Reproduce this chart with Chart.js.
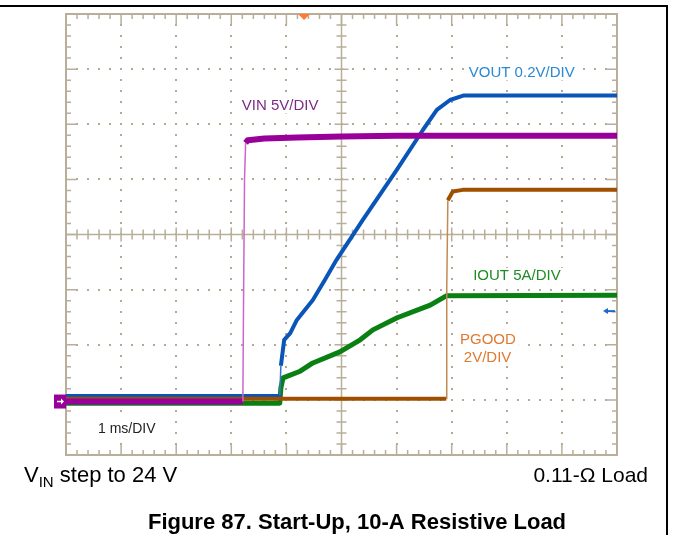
<!DOCTYPE html>
<html>
<head>
<meta charset="utf-8">
<script src="https://cdn.jsdelivr.net/npm/chart.js@4/dist/chart.umd.min.js"></script>
<style>
    html, body { margin: 0; padding: 0; background: #fff; }
    canvas { display: block; }
</style>
</head>
<body>
<canvas id="scope" width="673" height="535"></canvas>
<script>
// time in ms (1 ms/DIV, 10 divisions), amplitude in screen divisions (8 divisions)
const vinT   = [0, 3.21, 3.22, 3.24, 3.26, 3.30, 3.6, 4.2, 5.0, 6.0, 8.0, 10];
const vinV   = [0.97, 0.97, 2.5, 5.0, 5.66, 5.71, 5.74, 5.76, 5.78, 5.79, 5.79, 5.79];

const voutT  = [0, 3.87, 3.88, 3.90, 3.96, 4.07, 4.19, 4.48, 4.70, 4.91, 5.39, 6.00, 6.48, 6.73, 6.97, 7.21, 10];
const voutV  = [1.07, 1.07, 1.09, 1.62, 2.09, 2.21, 2.45, 2.81, 3.18, 3.54, 4.27, 5.17, 5.90, 6.26, 6.44, 6.52, 6.52];

const ioutT  = [0, 3.88, 3.90, 3.94, 4.25, 4.48, 4.97, 5.34, 5.57, 6.01, 6.61, 6.91, 10];
const ioutV  = [0.94, 0.94, 1.22, 1.40, 1.52, 1.67, 1.87, 2.09, 2.27, 2.49, 2.72, 2.89, 2.90];

const pgoodT = [0, 6.90, 6.91, 6.93, 7.02, 7.2, 10];
const pgoodV = [1.02, 1.02, 3.0, 4.62, 4.78, 4.81, 4.81];

const xTicks = [0, 1, 2, 3, 4, 5, 6, 7, 8, 9, 10];
const yTicks = [0, 1, 2, 3, 4, 5, 6, 7, 8];

const triggerT = 4.32;
const gndLevel = 0.97;
const refArrowV = 2.61;

const toPoints = (ts, vs) => ts.map((t, i) => ({ x: t, y: vs[i] }));

// thin, lighter stroke for the fast edges like on the scope screen
const edgeStyle = (thick, thin, w) => ({
    borderColor: ctx => isEdge(ctx) ? thin : thick,
    borderWidth: ctx => isEdge(ctx) ? 1.5 : w
});
function isEdge(ctx) {
    const dx = Math.abs(ctx.p1.parsed.x - ctx.p0.parsed.x);
    const dy = Math.abs(ctx.p1.parsed.y - ctx.p0.parsed.y);
    return dx < 0.03 && dy > 0.5;
}

const graticule = {
    id: 'graticule',
    beforeDatasetsDraw(chart) {
        const { ctx, chartArea: a, scales: { x, y } } = chart;
        ctx.save();
        // dotted grid
        ctx.fillStyle = '#b3a995';
        xTicks.slice(1, -1).forEach(t => {
            if (t === 5) return;
            const px = Math.round(x.getPixelForValue(t));
            for (let v = 0; v <= 8.001; v += 0.2) {
                ctx.fillRect(px - 1, Math.round(y.getPixelForValue(v)) - 1, 2, 2);
            }
        });
        yTicks.slice(1, -1).forEach(v => {
            if (v === 4) return;
            const py = Math.round(y.getPixelForValue(v));
            for (let t = 0; t <= 10.001; t += 0.2) {
                ctx.fillRect(Math.round(x.getPixelForValue(t)) - 1, py - 1, 2, 2);
            }
        });
        ctx.strokeStyle = '#b8ae9a';
        // center cross
        const cx = x.getPixelForValue(5), cy = y.getPixelForValue(4);
        ctx.lineWidth = 1.5;
        ctx.beginPath();
        ctx.moveTo(cx, a.top); ctx.lineTo(cx, a.bottom);
        ctx.moveTo(a.left, cy); ctx.lineTo(a.right, cy);
        ctx.stroke();
        // ticks
        ctx.beginPath();
        for (let i = 0; i <= 50; i++) {
            const px = x.getPixelForValue(i * 0.2);
            const len = i % 5 === 0 ? 11 : 5;
            ctx.moveTo(px, a.top); ctx.lineTo(px, a.top + len);
            ctx.moveTo(px, a.bottom); ctx.lineTo(px, a.bottom - len);
            const cl = i % 5 === 0 ? 7 : 5;
            ctx.moveTo(px, cy - cl); ctx.lineTo(px, cy + cl);
        }
        for (let i = 0; i <= 40; i++) {
            const py = y.getPixelForValue(i * 0.2);
            const len = i % 5 === 0 ? 11 : 5;
            ctx.moveTo(a.left, py); ctx.lineTo(a.left + len, py);
            ctx.moveTo(a.right, py); ctx.lineTo(a.right - len, py);
            const cl = i % 5 === 0 ? 7 : 5;
            ctx.moveTo(cx - cl, py); ctx.lineTo(cx + cl, py);
        }
        ctx.stroke();
        // border
        ctx.lineWidth = 2;
        ctx.strokeRect(a.left, a.top, a.right - a.left, a.bottom - a.top);
        ctx.restore();
    }
};

const labels = [
    { text: 'VIN 5V/DIV',    t: 3.19, v: 6.34, color: '#7d2a85' },
    { text: 'VOUT 0.2V/DIV', t: 7.31, v: 6.94, color: '#2b88d2' },
    { text: 'IOUT 5A/DIV',   t: 7.39, v: 3.25, color: '#1f8c24' },
    { text: 'PGOOD',         t: 7.15, v: 2.09, color: '#e07a2e' },
    { text: '2V/DIV',        t: 7.22, v: 1.77, color: '#e07a2e' },
    { text: '1 ms/DIV',      t: 0.58, v: 0.47, color: '#222222' }
];

const overlay = {
    id: 'overlay',
    afterDraw(chart) {
        const { ctx, chartArea: a, scales: { x, y } } = chart;
        ctx.save();
        ctx.textBaseline = 'middle';
        ctx.textAlign = 'left';
        labels.forEach(l => {
            ctx.font = (l.text === '1 ms/DIV' ? '14px' : '15px') + ' "Liberation Sans", Arial, sans-serif';
            const lx = x.getPixelForValue(l.t), ly = y.getPixelForValue(l.v);
            const w = ctx.measureText(l.text).width;
            ctx.fillStyle = '#fff';
            ctx.fillRect(lx - 3, ly - 8, w + 6, 16);
            ctx.fillStyle = l.color;
            ctx.fillText(l.text, lx, ly);
        });

        // trigger marker
        const tx = x.getPixelForValue(triggerT);
        ctx.fillStyle = '#ff7a33';
        ctx.beginPath();
        ctx.moveTo(tx - 6, a.top); ctx.lineTo(tx + 6, a.top); ctx.lineTo(tx, a.top + 6);
        ctx.closePath(); ctx.fill();

        // ground marker
        const gy = y.getPixelForValue(gndLevel);
        ctx.fillStyle = '#990099';
        ctx.fillRect(a.left - 12, gy - 7, 12, 14);
        ctx.strokeStyle = '#fff';
        ctx.fillStyle = '#fff';
        ctx.lineWidth = 1.5;
        ctx.beginPath();
        ctx.moveTo(a.left - 9, gy); ctx.lineTo(a.left - 3, gy); ctx.stroke();
        ctx.beginPath();
        ctx.moveTo(a.left - 2, gy); ctx.lineTo(a.left - 5, gy - 3); ctx.lineTo(a.left - 5, gy + 3);
        ctx.closePath(); ctx.fill();

        // reference arrow at right
        const ry = y.getPixelForValue(refArrowV);
        ctx.strokeStyle = '#2266cc';
        ctx.fillStyle = '#2266cc';
        ctx.lineWidth = 2;
        ctx.beginPath();
        ctx.moveTo(a.right - 2, ry); ctx.lineTo(a.right - 10, ry); ctx.stroke();
        ctx.beginPath();
        ctx.moveTo(a.right - 14, ry); ctx.lineTo(a.right - 9, ry - 3); ctx.lineTo(a.right - 9, ry + 3);
        ctx.closePath(); ctx.fill();

        // page frame
        ctx.strokeStyle = '#000';
        ctx.lineWidth = 2;
        ctx.beginPath();
        ctx.moveTo(0, 6); ctx.lineTo(667, 6); ctx.lineTo(667, 535);
        ctx.stroke();

        // captions
        ctx.fillStyle = '#000';
        ctx.textBaseline = 'alphabetic';
        ctx.font = '22px "Liberation Sans", Arial, sans-serif';
        let cx0 = 24;
        ctx.fillText('V', cx0, 482);
        cx0 += ctx.measureText('V').width;
        ctx.font = '15px "Liberation Sans", Arial, sans-serif';
        ctx.fillText('IN', cx0, 487);
        cx0 += ctx.measureText('IN').width;
        ctx.font = '22px "Liberation Sans", Arial, sans-serif';
        ctx.fillText(' step to 24 V', cx0, 482);
        ctx.textAlign = 'right';
        ctx.font = '21px "Liberation Sans", Arial, sans-serif';
        ctx.fillText('0.11-\u03A9 Load', 648, 482);
        ctx.textAlign = 'center';
        ctx.font = 'bold 22px "Liberation Sans", Arial, sans-serif';
        ctx.fillText('Figure 87. Start-Up, 10-A Resistive Load', 357, 529);
        ctx.restore();
    }
};

new Chart(document.getElementById('scope'), {
    type: 'line',
    data: {
        datasets: [
            {
                label: 'VIN',
                data: toPoints(vinT, vinV),
                borderColor: '#990099',
                borderWidth: 6,
                segment: edgeStyle('#990099', '#cc66cc', 6),
                order: 0
            },
            {
                label: 'PGOOD',
                data: toPoints(pgoodT, pgoodV),
                borderColor: '#a04f00',
                borderWidth: 4,
                segment: edgeStyle('#a04f00', '#c08a55', 4),
                order: 1
            },
            {
                label: 'VOUT',
                data: toPoints(voutT, voutV),
                borderColor: '#0a55b8',
                borderWidth: 4,
                segment: edgeStyle('#0a55b8', '#3377cc', 4),
                order: 2
            },
            {
                label: 'IOUT',
                data: toPoints(ioutT, ioutV),
                borderColor: '#0a8012',
                borderWidth: 5,
                segment: edgeStyle('#0a8012', '#0a8012', 5),
                order: 3
            }
        ]
    },
    options: {
        responsive: false,
        animation: false,
        devicePixelRatio: 1,
        layout: { padding: { left: 66, right: 56, top: 14, bottom: 80 } },
        elements: { point: { radius: 0 }, line: { tension: 0, borderJoinStyle: 'round' } },
        plugins: { legend: { display: false }, tooltip: { enabled: false } },
        scales: {
            x: { type: 'linear', min: 0, max: 10, display: false },
            y: { type: 'linear', min: 0, max: 8, display: false }
        }
    },
    plugins: [graticule, overlay]
});
</script>
</body>
</html>
